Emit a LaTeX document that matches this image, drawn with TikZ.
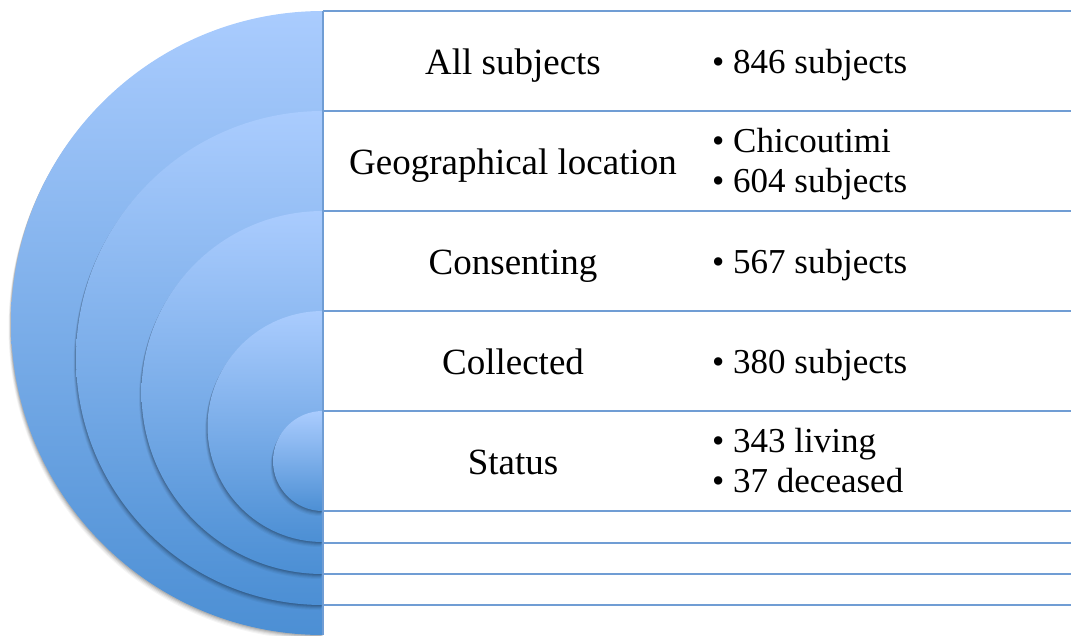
\documentclass[tikz,border=0pt]{standalone}
\usepackage{fontspec}
\setmainfont{Liberation Serif}
\begin{document}
\begin{tikzpicture}[x=1pt,y=-1pt]
\definecolor{disktop}{RGB}{170,204,254}
\definecolor{diskbot}{RGB}{76,143,212}
\definecolor{rule}{RGB}{112,157,212}
\tikzset{
  rowline/.style={draw=rule,line width=1.6pt},
  lbl/.style={font=\fontsize{37}{44}\selectfont, inner sep=0pt, anchor=base},
  item/.style={font=\fontsize{35}{42}\selectfont, inner sep=0pt, anchor=base west},
}
\useasboundingbox (0,0) rectangle (1071,635);

% nested half disks with soft drop shadows
\begin{scope}
  \clip (0,0) rectangle (323,635);
  \foreach \cy/\r in {323/312, 358/247, 392.5/181.5, 426.5/115.5, 461/50}{
    \foreach \dx/\dy/\op in {-2.5/5/0.04, -2/4/0.05, -1.5/3/0.07, -1/2/0.09, -0.5/1/0.10}{
      \fill[black,opacity=\op] (323+\dx,\cy+\r+\dy) arc[start angle=90,end angle=270,radius=\r] -- cycle;
    }
    \shade[top color=disktop,bottom color=diskbot]
      (323,\cy+\r) arc[start angle=90,end angle=270,radius=\r] -- cycle;
  }
\end{scope}

% table rules
\draw[rowline] (323,11) -- (323,635);
\foreach \y in {11,111,211,311,411,511,543,574,605}{
  \draw[rowline] (323,\y) -- (1071,\y);
}

% row labels
\node[lbl] (l1) at (513,74) {All subjects};
\node[lbl] (l2) at (513,174) {Geographical location};
\node[lbl] (l3) at (513,274) {Consenting};
\node[lbl] (l4) at (513,374) {Collected};
\node[lbl] (l5) at (513,474) {Status};

% row details
\node[item] (d1)  at (712,73)  {\textbullet\ 846 subjects};
\node[item] (d2a) at (712,152) {\textbullet\ Chicoutimi};
\node[item] (d2b) at (712,192) {\textbullet\ 604 subjects};
\node[item] (d3)  at (712,273) {\textbullet\ 567 subjects};
\node[item] (d4)  at (712,373) {\textbullet\ 380 subjects};
\node[item] (d5a) at (712,452) {\textbullet\ 343 living};
\node[item] (d5b) at (712,492) {\textbullet\ 37 deceased};
\end{tikzpicture}
\end{document}
